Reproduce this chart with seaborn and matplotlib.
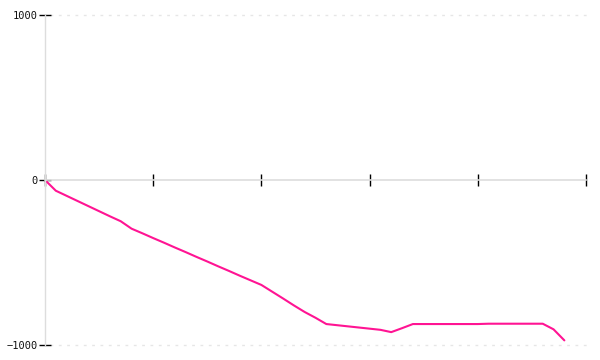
import matplotlib
matplotlib.use("Agg")
import matplotlib.pyplot as plt
import seaborn as sns
import pandas as pd

x_vals = list(range(49))
y_vals = [0, -65, -96, -127, -158, -189, -220, -250, -295, -323,
          -352, -380, -409, -437, -466, -494, -523, -551, -580, -608,
          -636, -677, -718, -760, -800, -835, -873, -880, -887, -894,
          -901, -908, -922, -898, -873, -873, -873, -873, -873, -873,
          -873, -871, -871, -871, -871, -871, -871, -905, -972]
x_ticks = [0, 10, 20, 30, 40, 50]
y_ticks = [-1000, 0, 1000]

df = pd.DataFrame({"x": x_vals, "y": y_vals})

sns.set_style("white")
plt.rcParams['font.family'] = ['DejaVu Sans Mono', 'DejaVu Sans']

fig = plt.figure(figsize=(6, 3.6), dpi=100)
ax = fig.add_axes([45/600, 15/360, 541/600, 330/360])
sns.lineplot(data=df, x="x", y="y", ax=ax, color="#ff1493", linewidth=1.5)

ax.set_xlim(0, 50)
ax.set_ylim(-1000, 1000)
ax.set_xticks(x_ticks)
ax.set_yticks(y_ticks)
ax.set_xticklabels([])
ax.set_yticklabels([str(v).replace('-', '\u2212') for v in y_ticks], fontsize=7.5, color="#111111")
ax.set_xlabel("")
ax.set_ylabel("")

for s in ["top", "right"]:
    ax.spines[s].set_visible(False)
ax.spines["bottom"].set_position(("data", 0))
ax.spines["bottom"].set_color("#dddddd")
ax.spines["left"].set_color("#dddddd")
ax.spines["left"].set_linewidth(1)
ax.spines["bottom"].set_linewidth(1.2)

ax.tick_params(axis="x", bottom=True, direction="inout", length=8, width=1, color="black")
ax.tick_params(axis="y", left=True, direction="inout", length=8, width=1, color="black", pad=1)

for v in [-1000, 1000]:
    ax.axhline(v, xmin=0.01, xmax=1.01, color="#e6e6e6", linestyle=(0, (2, 4)), linewidth=1, clip_on=False, zorder=0)

fig.savefig("out.png", dpi=100)
